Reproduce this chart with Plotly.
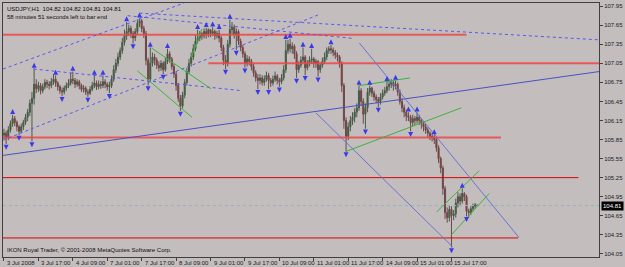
import plotly.graph_objects as go

# ---------------- data (USDJPY H1) ----------------
first_open = 105.92
closes = [
    105.95, 105.88, 106.00, 106.10, 106.18, 106.12, 106.05, 105.98, 106.05, 106.12,
    106.20, 106.28, 106.42, 106.50, 106.72, 106.65, 106.70, 106.62, 106.68, 106.75,
    106.72, 106.70, 106.76, 106.80, 106.74, 106.68, 106.62, 106.60, 106.66, 106.70,
    106.74, 106.80, 106.78, 106.72, 106.76, 106.70, 106.64, 106.66, 106.60, 106.58,
    106.64, 106.70, 106.74, 106.68, 106.72, 106.70, 106.76, 106.72, 106.68, 106.70,
    106.80, 106.95, 107.05, 107.15, 107.25, 107.38, 107.48, 107.55, 107.60, 107.52,
    107.45, 107.55, 107.68, 107.72, 107.60, 107.52, 107.10, 106.80, 107.05, 107.15,
    107.10, 107.02, 106.98, 107.05, 106.95, 107.08, 107.20, 107.12, 107.00, 106.88,
    106.70, 106.50, 106.38, 106.55, 106.75, 106.92, 107.05, 107.15, 107.28, 107.40,
    107.45, 107.52, 107.48, 107.55, 107.50, 107.58, 107.52, 107.55, 107.48, 107.52,
    107.45, 107.30, 107.10, 107.05, 107.35, 107.58, 107.62, 107.50, 107.55, 107.40,
    107.30, 107.20, 107.05, 107.12, 107.08, 107.00, 106.90, 106.82, 106.78, 106.82,
    106.75, 106.80, 106.86, 106.78, 106.74, 106.80, 106.85, 106.78, 106.76, 106.82,
    106.95, 107.25, 107.35, 107.28, 107.32, 107.20, 106.95, 107.02, 107.10, 107.15,
    106.98, 107.05, 107.10, 107.12, 107.05, 107.08, 106.95, 107.02, 107.08, 107.15,
    107.25, 107.28, 107.26, 107.22, 107.18, 107.15, 107.05, 106.70, 106.15, 105.90,
    106.05, 106.15, 106.20, 106.28, 106.35, 106.62, 106.45, 106.25, 106.35, 106.60,
    106.66, 106.58, 106.52, 106.48, 106.45, 106.52, 106.58, 106.62, 106.68, 106.72,
    106.75, 106.70, 106.72, 106.60, 106.45, 106.35, 106.28, 106.22, 106.20, 106.12,
    106.18, 106.15, 106.20, 106.15, 106.10, 106.05, 106.00, 105.95, 105.90, 105.88,
    105.85, 105.72, 105.55, 105.40, 105.08, 104.70, 104.62, 104.75, 104.65, 104.68,
    104.85, 104.95, 104.88, 105.00, 104.95, 104.72, 104.70, 104.76, 104.80, 104.82,
    104.81,
]
highs = [
    106.02, 105.99, 106.06, 106.15, 106.24, 106.22, 106.15, 106.08, 106.10, 106.16,
    106.25, 106.33, 106.48, 106.60, 106.97, 106.80, 106.76, 106.74, 106.73, 106.80,
    106.79, 106.77, 106.82, 106.88, 106.86, 106.77, 106.71, 106.67, 106.70, 106.75,
    106.80, 106.90, 106.92, 106.82, 106.80, 106.79, 106.73, 106.71, 106.69, 106.64,
    106.69, 106.76, 106.86, 106.78, 106.78, 106.77, 106.86, 106.80, 106.75, 106.76,
    106.86, 107.02, 107.12, 107.22, 107.30, 107.45, 107.58, 107.70, 107.66, 107.64,
    107.56, 107.60, 107.74, 107.76, 107.75, 107.64, 107.56, 107.14, 107.30, 107.22,
    107.20, 107.14, 107.08, 107.10, 107.08, 107.14, 107.28, 107.24, 107.15, 107.04,
    106.92, 106.74, 106.55, 106.60, 106.80, 106.98, 107.12, 107.22, 107.35, 107.50,
    107.58, 107.56, 107.54, 107.60, 107.61, 107.60, 107.58, 107.62, 107.58, 107.56,
    107.58, 107.48, 107.34, 107.18, 107.42, 107.74, 107.70, 107.66, 107.60, 107.58,
    107.44, 107.34, 107.24, 107.18, 107.16, 107.12, 107.04, 106.94, 106.88, 106.88,
    106.86, 106.86, 106.92, 106.90, 106.82, 106.86, 106.92, 106.88, 106.82, 106.88,
    107.02, 107.42, 107.42, 107.44, 107.38, 107.35, 107.24, 107.08, 107.16, 107.30,
    107.18, 107.10, 107.16, 107.28, 107.15, 107.12, 107.10, 107.06, 107.14, 107.22,
    107.30, 107.32, 107.34, 107.30, 107.26, 107.22, 107.18, 107.08, 106.74, 106.20,
    106.12, 106.22, 106.28, 106.34, 106.42, 106.70, 106.66, 106.50, 106.42, 106.66,
    106.70, 106.68, 106.62, 106.56, 106.52, 106.58, 106.64, 106.68, 106.76, 106.78,
    106.80, 106.78, 106.78, 106.75, 106.64, 106.50, 106.40, 106.32, 106.28, 106.24,
    106.24, 106.22, 106.28, 106.24, 106.18, 106.14, 106.10, 106.04, 105.98, 105.96,
    105.92, 105.88, 105.76, 105.58, 105.44, 105.12, 104.78, 104.82, 104.80, 104.74,
    104.92, 105.02, 105.00, 105.08, 105.02, 104.98, 104.76, 104.80, 104.84, 104.85,
    104.82,
]
lows = [
    105.86, 105.78, 105.84, 105.96, 106.05, 106.06, 105.98, 105.92, 105.95, 106.00,
    106.08, 106.14, 106.22, 105.82, 106.40, 106.58, 106.60, 106.56, 106.58, 106.64,
    106.66, 106.64, 106.66, 106.71, 106.68, 106.62, 106.57, 106.53, 106.56, 106.62,
    106.66, 106.70, 106.72, 106.66, 106.68, 106.64, 106.60, 106.59, 106.55, 106.52,
    106.55, 106.61, 106.66, 106.63, 106.64, 106.65, 106.66, 106.66, 106.62, 106.58,
    106.66, 106.76, 106.90, 107.00, 107.10, 107.20, 107.33, 107.42, 107.48, 107.45,
    107.36, 107.40, 107.50, 107.62, 107.54, 107.45, 107.02, 106.70, 106.76, 107.00,
    107.02, 106.96, 106.92, 106.93, 106.88, 106.92, 107.04, 107.06, 106.95, 106.82,
    106.62, 106.44, 106.30, 106.34, 106.50, 106.70, 106.88, 107.00, 107.10, 107.24,
    107.36, 107.40, 107.42, 107.44, 107.44, 107.46, 107.46, 107.48, 107.42, 107.44,
    107.38, 107.24, 107.02, 106.96, 107.00, 107.30, 107.50, 107.44, 107.26, 107.34,
    107.24, 107.14, 106.98, 107.00, 107.02, 106.94, 106.84, 106.76, 106.64, 106.72,
    106.70, 106.70, 106.76, 106.64, 106.68, 106.70, 106.76, 106.72, 106.68, 106.72,
    106.78, 106.90, 107.20, 107.22, 107.20, 107.12, 106.82, 106.90, 106.98, 107.05,
    106.86, 106.94, 107.00, 107.04, 106.98, 106.98, 106.84, 106.90, 106.98, 107.04,
    107.10, 107.20, 107.20, 107.16, 107.12, 107.08, 106.98, 106.60, 106.02, 105.66,
    105.84, 105.98, 106.08, 106.12, 106.20, 106.30, 106.38, 106.10, 106.02, 106.28,
    106.54, 106.52, 106.46, 106.42, 106.36, 106.40, 106.48, 106.54, 106.58, 106.62,
    106.66, 106.62, 106.64, 106.54, 106.40, 106.28, 106.20, 106.14, 106.14, 105.98,
    106.06, 106.08, 106.10, 106.08, 106.02, 105.98, 105.94, 105.88, 105.84, 105.82,
    105.78, 105.66, 105.48, 105.32, 104.98, 104.60, 104.54, 104.56, 104.15, 104.58,
    104.62, 104.78, 104.80, 104.84, 104.88, 104.64, 104.62, 104.66, 104.72, 104.76,
    104.81,
]
opens = [first_open] + closes[:-1]
bars = list(range(len(closes)))

fractal_up = [4, 14, 24, 32, 42, 46, 57, 63, 68, 76, 90, 94, 97, 100, 105, 131, 133,
              139, 143, 152, 165, 170, 178, 182, 188, 192, 200, 213]
fractal_down = [1, 7, 13, 27, 39, 49, 60, 67, 74, 82, 103, 108, 112, 118, 123, 128,
                136, 140, 146, 159, 168, 174, 189, 208, 215]

tick_bars = [0, 16, 32, 48, 64, 80, 96, 112, 128, 144, 160, 176, 192, 208]
tick_labels = ["3 Jul 2008", "3 Jul 17:00", "4 Jul 09:00", "7 Jul 01:00", "7 Jul 17:00",
               "8 Jul 09:00", "9 Jul 01:00", "9 Jul 17:00", "10 Jul 09:00", "11 Jul 01:00",
               "11 Jul 17:00", "14 Jul 09:00", "15 Jul 01:00", "15 Jul 17:00"]
price_ticks = [104.05, 104.35, 104.65, 104.95, 105.25, 105.55, 105.85, 106.15,
               106.45, 106.75, 107.05, 107.35, 107.65, 107.95]
bid = 104.81

X_MIN, X_MAX = -0.46, 276.57
Y_MIN, Y_MAX = 104.0, 108.0

# drawn objects (bar index, price)
red_thick = [(X_MIN, 215, 107.50), (95, X_MAX, 107.05), (X_MIN, 231, 105.88)]
red_thin = [(X_MIN, 267, 105.25), (X_MIN, 239, 104.30)]
green_lines = [((68.6, 107.29), (96.2, 106.65)), ((62.1, 106.93), (87.4, 106.20)),
               ((87.0, 107.14), (92.0, 107.59)), ((165.2, 106.70), (188.7, 106.82)),
               ((158.8, 105.66), (212.6, 106.35)), ((201.1, 104.71), (220.9, 105.36)),
               ((208.0, 104.35), (225.5, 105.00))]
blue_solid = [((165.2, 107.37), (239.3, 104.31)), ((145.0, 106.27), (208.5, 104.16))]
blue_long = [((X_MIN, 105.60), (X_MAX, 106.92))]
blue_dotted = [((X_MIN, 106.96), (83.8, 108.0)), ((X_MIN, 105.84), (145.9, 107.81)),
               ((13.8, 106.96), (110.4, 106.62)), ((63.0, 107.84), (X_MAX, 107.42)),
               ((57.5, 107.80), (162.9, 107.44))]

FONT = "Liberation Sans"
fig = go.Figure()

def seg(p0, p1, color, width, dash="solid"):
    fig.add_trace(go.Scatter(x=[p0[0], p1[0]], y=[p0[1], p1[1]], mode="lines",
                             line=dict(color=color, width=width, dash=dash),
                             hoverinfo="skip", showlegend=False))

for x0, x1, p in red_thick:
    seg((x0, p), (x1, p), "rgba(238,70,70,0.85)", 2)
for x0, x1, p in red_thin:
    seg((x0, p), (x1, p), "#dd0000", 1)
seg((X_MIN, bid), (X_MAX, bid), "#8fb8b8", 1, "dot")
for a, b in blue_long:
    seg(a, b, "#4a52c4", 1)
for a, b in blue_dotted:
    seg(a, b, "#5858ee", 1, "dot")
for a, b in blue_solid:
    seg(a, b, "#6a74d0", 1)
for a, b in green_lines:
    seg(a, b, "#3cb43c", 1)

fig.add_trace(go.Candlestick(
    x=bars, open=opens, high=highs, low=lows, close=closes,
    increasing=dict(line=dict(color="#4a5a4a", width=1), fillcolor="#0a780a"),
    decreasing=dict(line=dict(color="#6a4a4a", width=1), fillcolor="#e01010"),
    whiskerwidth=0, showlegend=False, hoverinfo="skip"))

fig.add_trace(go.Scatter(
    x=fractal_up, y=[highs[i] + 0.09 for i in fractal_up], mode="markers",
    marker=dict(symbol="arrow-up", size=5, color="#3a3ae8"),
    hoverinfo="skip", showlegend=False))
fig.add_trace(go.Scatter(
    x=fractal_down, y=[lows[i] - 0.09 for i in fractal_down], mode="markers",
    marker=dict(symbol="arrow-down", size=5, color="#3a3ae8"),
    hoverinfo="skip", showlegend=False))

ann = []
for b, t in zip(tick_bars, tick_labels):
    ann.append(dict(x=b, y=0, xref="x", yref="paper", text=t, showarrow=False,
                    xanchor="left", yanchor="top", xshift=1, yshift=-1,
                    font=dict(family=FONT, size=6, color="#202020")))
ann.append(dict(x=1, y=bid, xref="paper", yref="y", text="104.81", showarrow=False,
                xanchor="left", yanchor="middle", xshift=2, bgcolor="#000000",
                borderpad=1, font=dict(family=FONT, size=6, color="#ffffff")))
ann.append(dict(x=0, y=1, xref="paper", yref="paper", xanchor="left", yanchor="top",
                text="USDJPY,H1  104.82 104.82 104.81 104.81", showarrow=False,
                xshift=2, yshift=-1, font=dict(family=FONT, size=6, color="#101010")))
ann.append(dict(x=0, y=1, xref="paper", yref="paper", xanchor="left", yanchor="top",
                text="58 minutes 51 seconds left to bar end", showarrow=False,
                xshift=2, yshift=-9, font=dict(family=FONT, size=6, color="#101010")))
ann.append(dict(x=0, y=0, xref="paper", yref="paper", xanchor="left", yanchor="bottom",
                text="IKON Royal Trader, \u00a9 2001-2008 MetaQuotes Software Corp.",
                showarrow=False, xshift=2, yshift=2,
                font=dict(family=FONT, size=6, color="#101010")))

bg = "#c3bdbe"
fig.update_layout(
    width=625, height=267, autosize=False,
    margin=dict(l=2, r=21, t=2, b=10, pad=0),
    paper_bgcolor=bg, plot_bgcolor=bg,
    annotations=ann, showlegend=False,
    xaxis=dict(range=[X_MIN, X_MAX], rangeslider=dict(visible=False), showgrid=False,
               zeroline=False, tickvals=tick_bars, ticktext=[""] * len(tick_bars),
               ticks="outside", ticklen=3, tickcolor="#404040", showline=True,
               linecolor="#404040", mirror=True, linewidth=1),
    yaxis=dict(range=[Y_MIN, Y_MAX], side="right", showgrid=False, zeroline=False,
               tickvals=price_ticks, ticktext=[f"{v:.2f}" for v in price_ticks],
               ticks="outside", ticklen=3, tickcolor="#404040",
               tickfont=dict(family=FONT, size=6, color="#202020"),
               showline=True, linecolor="#404040", mirror=True, linewidth=1),
)
fig.write_html("out.html")
